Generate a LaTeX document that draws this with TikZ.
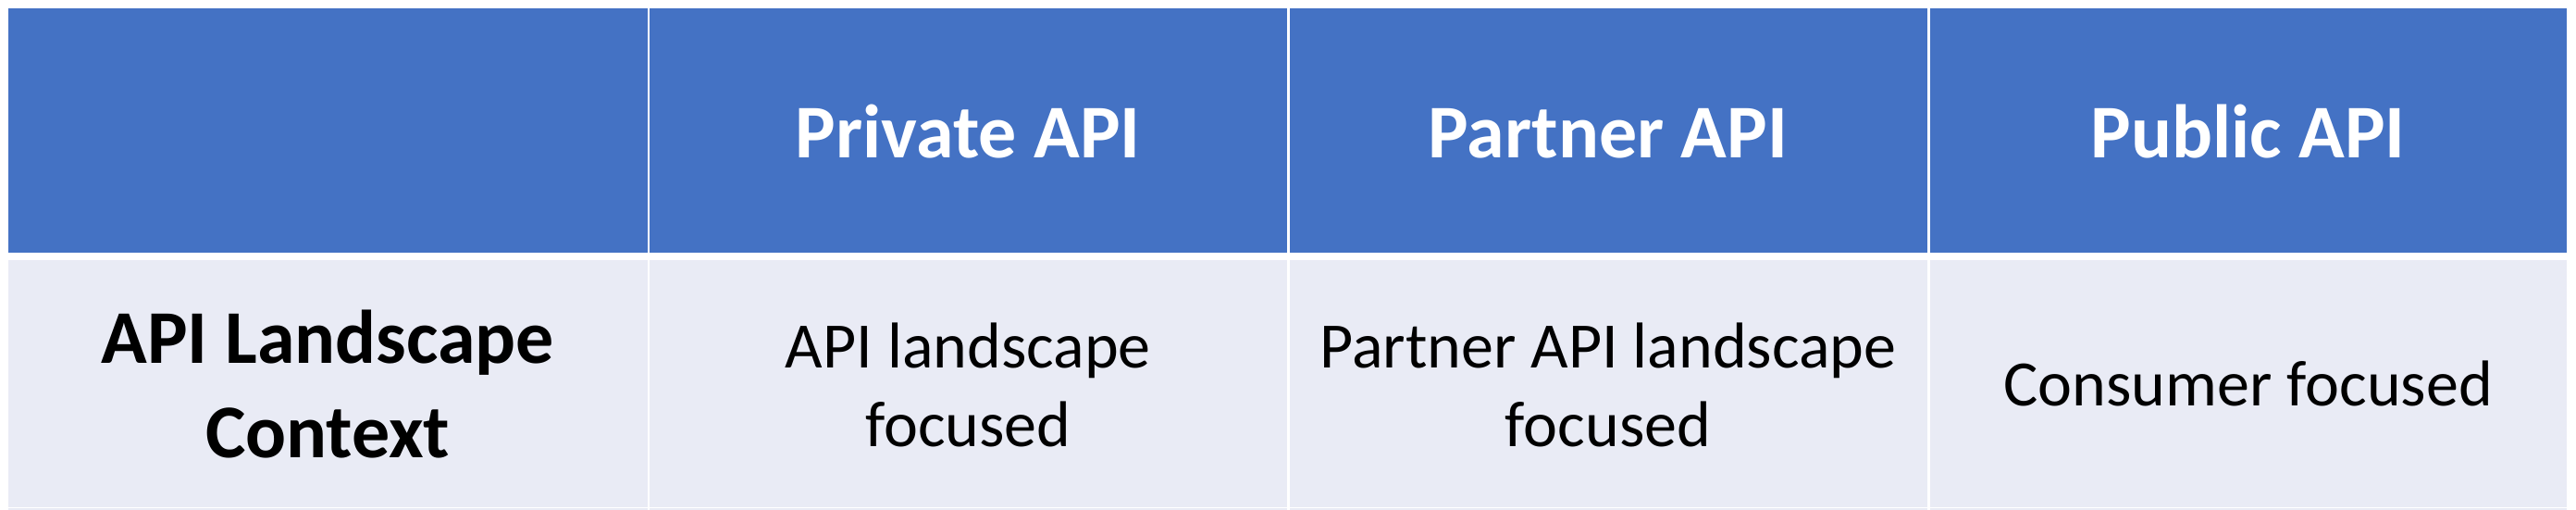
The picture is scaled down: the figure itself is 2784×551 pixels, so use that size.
\documentclass[tikz,border=0pt]{standalone}
\usepackage{fontspec}
\setmainfont{Carlito}
\definecolor{hdrblue}{HTML}{4472C4}
\definecolor{bodyfill}{HTML}{E9EBF5}
\begin{document}
\begin{tikzpicture}[x=1pt,y=-1pt,
  cellbox/.style={inner sep=0pt, outer sep=0pt, draw=none},
  hdrcell/.style={cellbox, fill=hdrblue, minimum height=264.3pt},
  bodycell/.style={cellbox, fill=bodyfill, minimum height=266.7pt},
  hdrtext/.style={inner sep=0pt, anchor=base, align=center, text=white, font=\fontsize{82}{100}\selectfont\bfseries},
  rowhead/.style={inner sep=0pt, anchor=base, align=center, text=black, font=\fontsize{82}{102}\selectfont\bfseries},
  bodytext/.style={inner sep=0pt, anchor=base, align=center, text=black, font=\fontsize{70}{85.4}\selectfont}]
\useasboundingbox (0,0) rectangle (2784,551);
\fill[white] (0,0) rectangle (2784,551);
% header row
\node[hdrcell, minimum width=690.5pt] (h0) at (354.25,141.15) {};
\node[hdrcell, minimum width=688.5pt] (h1) at (1046.25,141.15) {};
\node[hdrcell, minimum width=689pt]   (h2) at (1738,141.15) {};
\node[hdrcell, minimum width=688.5pt] (h3) at (2429.75,141.15) {};
% body row
\node[bodycell, minimum width=690.5pt] (b0) at (354.25,414.35) {};
\node[bodycell, minimum width=688.5pt] (b1) at (1046.25,414.35) {};
\node[bodycell, minimum width=689pt]   (b2) at (1738,414.35) {};
\node[bodycell, minimum width=688.5pt] (b3) at (2429.75,414.35) {};
% start of next row, cut by the edge
\fill[bodyfill] (9,549) rectangle (699.5,552);
\fill[bodyfill] (702,549) rectangle (1390.5,552);
\fill[bodyfill] (1393.5,549) rectangle (2082.5,552);
\fill[bodyfill] (2085.5,549) rectangle (2774,552);
% header texts
\node[hdrtext] (t1) at (1046.25,170) {Private API};
\node[hdrtext] (t2) at (1738,170) {Partner API};
\node[hdrtext] (t3) at (2429.75,170) {Public API};
% body texts (base anchor = baseline of the last line)
\node[rowhead] (r0) at (354.25,494) {API Landscape\\Context};
\node[bodytext] (r1) at (1046.25,482.4) {API landscape\\focused};
\node[bodytext] (r2) at (1738,482.4) {Partner API landscape\\focused};
\node[bodytext] (r3) at (2429.75,438) {Consumer focused};
\end{tikzpicture}
\end{document}
